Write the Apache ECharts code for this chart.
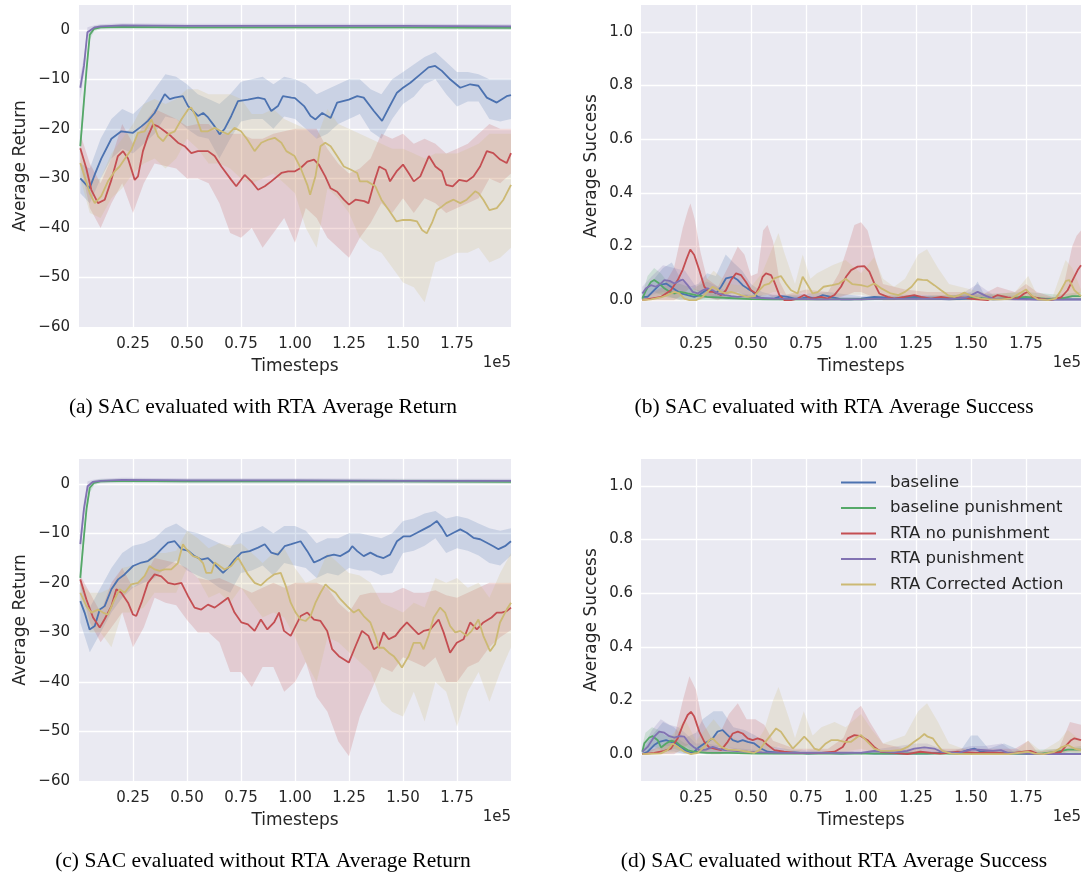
<!DOCTYPE html>
<html>
<head>
<meta charset="utf-8">
<script src="https://cdn.jsdelivr.net/npm/echarts@6/dist/echarts.min.js"></script>
<style>
  html, body { margin: 0; padding: 0; background: #fff; }
  #main { width: 1086px; height: 876px; }
</style>
</head>
<body>
<div id="main"></div>
<script>
// series names / colours (seaborn "deep")
var NAMES = ['baseline', 'baseline punishment', 'RTA no punishment', 'RTA punishment', 'RTA Corrected Action'];
var COLORS = ['#4C72B0', '#55A868', '#C44E52', '#8172B2', '#CCB974'];

// timesteps (x 1e5) used by the return bands
var X = [0.006, 0.05, 0.1, 0.15, 0.2, 0.25, 0.3, 0.35, 0.4, 0.45, 0.5, 0.55, 0.6, 0.65, 0.7, 0.75, 0.8, 0.85, 0.9, 0.95,
  1.0, 1.05, 1.1, 1.15, 1.2, 1.25, 1.3, 1.35, 1.4, 1.45, 1.5, 1.55, 1.6, 1.65, 1.7, 1.75, 1.8, 1.85, 1.9, 1.95, 2.0];

// ---- (a) return, evaluated with RTA: mean curves [x, y], bands lo/hi on X ----
var aBlue = [[0.006,-30],[0.049,-32],[0.075,-29],[0.103,-26],[0.15,-22],[0.196,-20.5],[0.25,-20.8],[0.289,-19.5],[0.319,-18.4],[0.35,-16.8],
  [0.397,-13],[0.42,-14],[0.443,-13.7],[0.481,-13.4],[0.505,-15.4],[0.551,-17.4],[0.575,-16.8],[0.597,-17.7],[0.628,-19.5],[0.651,-21.1],
  [0.674,-20],[0.705,-17.4],[0.736,-14.4],[0.782,-14.1],[0.829,-13.7],[0.86,-14],[0.89,-16.4],[0.921,-15.4],[0.944,-13.4],[0.983,-13.7],
  [1.0,-13.8],[1.042,-15.4],[1.072,-17.4],[1.095,-18.1],[1.126,-16.8],[1.165,-17.8],[1.195,-14.7],[1.249,-14.1],[1.288,-13.4],[1.318,-13.7],
  [1.365,-16.4],[1.403,-18.4],[1.434,-15.8],[1.472,-12.7],[1.5,-11.7],[1.534,-10.7],[1.58,-9],[1.618,-7.6],[1.649,-7.3],[1.68,-8.3],
  [1.718,-10],[1.765,-11.7],[1.811,-11],[1.849,-11.3],[1.888,-13.7],[1.934,-14.7],[1.98,-13.4],[2.0,-13.2]];
var aBlueHi = [-27, -28, -22, -18, -16, -17, -15, -12, -9, -9.5, -11, -13, -14, -15, -13, -10.5, -10, -9.5, -11, -9.5,
  -10, -11, -13, -12, -11, -10, -10, -12, -13, -10, -8.5, -7, -5.5, -4.5, -6.5, -8.5, -8.5, -9, -10, -10, -10];
var aBlueLo = [-33, -35, -30, -26, -24, -25, -23, -21, -17.5, -18, -20, -21.5, -22, -26, -22, -18.5, -18, -18, -20, -17.5,
  -18, -20, -22, -21, -19, -18, -17, -20.5, -22, -18, -15, -13.5, -11, -10, -13, -15.5, -14.5, -14.5, -18, -18.5, -18];
var aRed = [[0.006,-23.9],[0.034,-28],[0.057,-32.3],[0.088,-35],[0.119,-34.3],[0.15,-30.3],[0.18,-25.5],[0.204,-24.5],[0.227,-26],[0.258,-30.3],
  [0.273,-29.6],[0.296,-24.5],[0.319,-21.5],[0.343,-19.1],[0.366,-19.5],[0.397,-20.5],[0.427,-21.5],[0.458,-22.8],[0.489,-23.5],[0.52,-24.9],
  [0.55,-24.5],[0.597,-24.5],[0.628,-25.5],[0.659,-27.6],[0.705,-30.3],[0.728,-31.6],[0.767,-29.3],[0.798,-30.6],[0.829,-32.3],[0.86,-31.6],
  [0.89,-30.6],[0.937,-28.9],[0.968,-28.6],[0.998,-28.6],[1.026,-27.9],[1.057,-26.6],[1.088,-26.2],[1.11,-27.2],[1.14,-29.6],[1.165,-32],
  [1.195,-32.7],[1.226,-34.3],[1.25,-35.3],[1.28,-34.3],[1.32,-34.6],[1.34,-35],[1.37,-30.3],[1.39,-27.6],[1.42,-28.3],[1.44,-30.6],
  [1.47,-28.6],[1.5,-27.2],[1.526,-28.9],[1.55,-30.6],[1.58,-29.6],[1.62,-25.5],[1.65,-27.6],[1.68,-28.6],[1.7,-31.3],[1.73,-31.6],
  [1.76,-30.3],[1.795,-30.6],[1.826,-29.6],[1.857,-27.6],[1.888,-24.5],[1.918,-24.9],[1.95,-26.2],[1.98,-26.9],[2.0,-24.9]];
var aRedHi = [-21, -27, -31, -26, -19, -23, -19, -16, -17, -18, -19.5, -19, -19, -21, -21, -21, -22, -22, -21, -20.5,
  -20, -20, -20, -24, -27, -29, -28, -26, -21, -22, -21, -23, -22, -23, -25, -24, -23, -21, -19, -20, -20];
var aRedLo = [-27, -36, -40, -35, -31, -37, -31, -27, -27.5, -28, -30, -30, -31, -35, -41, -42, -40, -44, -41, -38,
  -43, -36, -38, -42, -44, -46, -42, -39, -35, -37, -34, -37, -34, -35, -37, -36, -35, -34, -30, -31, -29];
var aGold = [[0.006,-26.9],[0.026,-29.6],[0.05,-33],[0.073,-35],[0.103,-33.6],[0.134,-30.6],[0.165,-28.6],[0.188,-27.6],[0.21,-26.2],[0.242,-24.2],
  [0.273,-20.8],[0.304,-20.5],[0.335,-18.1],[0.366,-21.5],[0.389,-22.5],[0.412,-21.1],[0.443,-20.5],[0.474,-18.1],[0.505,-16.1],[0.52,-15.7],
  [0.543,-17.7],[0.566,-20.5],[0.597,-20.5],[0.628,-19.8],[0.659,-20.5],[0.69,-21.1],[0.72,-19.8],[0.75,-20.5],[0.78,-22.2],[0.813,-24.5],
  [0.844,-22.8],[0.875,-22.2],[0.906,-21.8],[0.937,-22.8],[0.96,-24.5],[0.998,-25.5],[1.026,-27.9],[1.057,-31.3],[1.07,-33.3],[1.095,-29.5],
  [1.118,-23.5],[1.14,-22.8],[1.165,-23.5],[1.195,-25.5],[1.226,-27.6],[1.257,-28.2],[1.288,-28.9],[1.3,-30.6],[1.334,-30.6],[1.372,-31.6],
  [1.4,-34.3],[1.434,-36.4],[1.47,-38.7],[1.5,-38.4],[1.534,-38.4],[1.565,-38.7],[1.588,-40.4],[1.61,-41.1],[1.634,-39],[1.657,-36.4],
  [1.68,-35.7],[1.7,-35],[1.734,-34.3],[1.765,-35],[1.795,-34.3],[1.834,-32.6],[1.85,-33],[1.872,-34.3],[1.9,-36.4],[1.934,-36],
  [1.965,-34.3],[2.0,-31.3]];
var aGoldHi = [-24, -30, -30, -25, -22, -19, -15, -14, -15, -14, -12, -12, -13, -13, -13, -14, -17, -17, -16, -18,
  -19, -20, -22, -16, -19, -20, -21, -22, -23, -24, -24, -25, -26, -25, -25, -25, -24, -23, -21, -21, -21];
var aGoldLo = [-30, -37, -38, -34, -32, -29, -27, -26, -28, -26, -22, -24, -27, -27, -28, -30, -31, -30, -29, -31,
  -33, -40, -44, -32, -34, -37, -42, -44, -45, -48, -51, -52, -55, -47, -46, -45, -45, -44, -47, -46, -44];
var aGreenX = [0.006, 0.02, 0.035, 0.05, 0.07, 0.1, 0.2, 0.5, 1.0, 1.5, 2.0];
var aGreen = [-23.5, -16, -8, -1, 0.2, 0.5, 0.6, 0.5, 0.5, 0.5, 0.4];
var aGreenHi = [-21.5, -14, -6.5, 0, 0.7, 0.9, 1.0, 0.9, 0.9, 0.9, 0.8];
var aGreenLo = [-25.5, -18, -9.5, -2, -0.3, 0.1, 0.2, 0.1, 0.1, 0.1, 0.0];
var aPurpleX = [0.006, 0.023, 0.039, 0.073, 0.1, 0.2, 0.5, 1.0, 1.5, 2.0];
var aPurple = [-11.7, -7.3, -0.5, 0.5, 0.7, 0.9, 0.8, 0.8, 0.8, 0.7];
var aPurpleHi = [-9.5, -5.5, 0.5, 0.9, 1.1, 1.3, 1.2, 1.2, 1.2, 1.1];
var aPurpleLo = [-14, -9, -1.5, 0.1, 0.3, 0.5, 0.4, 0.4, 0.4, 0.3];

// ---- (c) return, evaluated without RTA ----
var cBlue = [[0.006,-23.7],[0.026,-26],[0.049,-29.4],[0.073,-28.7],[0.096,-25.4],[0.119,-24.7],[0.15,-21.3],[0.181,-19.3],[0.211,-18.3],[0.25,-16.6],
  [0.289,-15.9],[0.319,-15.6],[0.35,-14.6],[0.381,-13.2],[0.412,-11.9],[0.443,-11.6],[0.474,-13.2],[0.505,-13.5],[0.535,-14.6],[0.566,-15.3],
  [0.597,-15],[0.636,-16.6],[0.667,-18],[0.69,-17],[0.72,-15.3],[0.752,-13.9],[0.79,-13.6],[0.829,-12.9],[0.86,-12.2],[0.89,-13.9],
  [0.921,-14.3],[0.952,-12.6],[0.983,-12.2],[1.026,-11.6],[1.057,-13.6],[1.088,-15.9],[1.118,-15.3],[1.149,-14.6],[1.18,-14.3],[1.21,-14.6],
  [1.249,-13.6],[1.265,-12.6],[1.288,-13.6],[1.318,-14.6],[1.349,-13.9],[1.38,-14.6],[1.41,-15],[1.44,-14.3],[1.472,-11.6],[1.503,-10.6],
  [1.534,-10.6],[1.565,-9.9],[1.595,-9.2],[1.626,-8.5],[1.657,-7.5],[1.68,-8.9],[1.703,-10.6],[1.734,-9.9],[1.765,-9.2],[1.795,-9.9],
  [1.826,-10.9],[1.857,-11.2],[1.888,-11.9],[1.918,-12.6],[1.942,-13.2],[1.972,-12.6],[2.0,-11.6]];
var cBlueHi = [-20, -25, -21, -17, -14, -12.5, -12, -11, -9, -8, -9.5, -10, -11, -12, -13, -10, -9.5, -8.5, -10, -8.5,
  -8.5, -9.5, -12, -11, -11, -10, -10, -10.5, -11, -10, -7.5, -7, -6, -5.5, -7, -6.5, -7, -8, -9, -9.5, -9];
var cBlueLo = [-28, -34, -30, -26, -23, -21, -20, -19, -17, -15.5, -17.5, -18.5, -19.5, -21, -22, -18, -17.5, -16.5, -18.5, -16,
  -16.5, -17, -19, -18, -18.5, -17, -17.5, -17.5, -18.5, -18, -14, -13.5, -12.5, -11, -14, -13, -13.5, -14.5, -16, -16.5, -14.5];
var cRed = [[0.006,-19.3],[0.034,-23.3],[0.065,-27],[0.096,-29],[0.119,-27.3],[0.15,-24.7],[0.173,-21.3],[0.196,-22],[0.227,-24],[0.25,-26.4],
  [0.265,-26.7],[0.289,-24],[0.319,-20],[0.35,-18.3],[0.381,-18.7],[0.412,-20],[0.443,-20.3],[0.474,-20],[0.505,-22.7],[0.535,-25],
  [0.566,-25.4],[0.597,-24.4],[0.628,-25],[0.659,-24],[0.69,-23],[0.72,-26],[0.752,-28],[0.782,-28.4],[0.813,-29.7],[0.842,-27.4],
  [0.872,-29.4],[0.903,-28],[0.926,-26],[0.949,-29.7],[0.98,-30.7],[1.003,-28.7],[1.026,-26.7],[1.057,-26],[1.088,-27.4],[1.118,-27.7],
  [1.149,-29.7],[1.172,-33.4],[1.203,-34.8],[1.249,-36.1],[1.28,-32.8],[1.31,-29.7],[1.34,-30.7],[1.365,-33.4],[1.388,-32.8],[1.41,-30],
  [1.434,-31.4],[1.465,-30.7],[1.488,-29.4],[1.518,-28],[1.549,-29.4],[1.572,-30.4],[1.595,-29.7],[1.626,-29.4],[1.665,-27.4],[1.688,-30],
  [1.718,-34.1],[1.749,-32.1],[1.78,-31.4],[1.811,-28],[1.842,-29.4],[1.872,-28],[1.91,-27],[1.934,-26],[1.957,-26],[1.98,-25.7],[2.0,-25]];
var cRedHi = [-18.5, -22, -26, -20, -17, -21, -19, -15, -15.5, -16, -17, -19, -19.5, -19, -20, -21, -22, -21, -20, -21,
  -20, -20, -20, -21, -24, -26, -22.5, -22, -22, -22, -21, -22, -22, -21.5, -22.5, -23, -22, -21, -20, -20, -20];
var cRedLo = [-20.5, -28, -32, -29, -26, -33, -29, -23, -24, -24.5, -27.5, -30, -30, -32, -38, -38, -41, -37, -37, -42,
  -40, -36, -43, -46, -52, -55, -47, -42, -37, -38, -35, -36, -37, -35, -40, -40, -37, -36, -33, -31, -29.5];
var cGold = [[0.006,-22],[0.034,-24.7],[0.057,-26],[0.088,-25.4],[0.111,-26],[0.134,-26.4],[0.165,-23.3],[0.188,-21.3],[0.211,-22],[0.242,-20.3],
  [0.273,-20],[0.304,-18.6],[0.327,-16.6],[0.35,-17.3],[0.373,-17.6],[0.397,-17.3],[0.427,-17.3],[0.458,-16],[0.481,-12.2],[0.497,-13.2],
  [0.528,-14.6],[0.551,-14.9],[0.574,-16],[0.589,-18],[0.613,-18],[0.628,-15.9],[0.651,-16.6],[0.674,-17.3],[0.705,-16.6],[0.736,-14.9],
  [0.759,-16.6],[0.782,-18.3],[0.813,-20],[0.842,-20.5],[0.872,-19.3],[0.903,-18.3],[0.934,-18],[0.957,-20.6],[0.98,-24],[1.003,-26],
  [1.026,-27.4],[1.049,-27.7],[1.072,-26.7],[1.095,-24],[1.118,-22],[1.141,-20.3],[1.165,-21.3],[1.188,-22],[1.21,-23.3],[1.241,-24.7],
  [1.272,-26],[1.295,-25.4],[1.318,-26.7],[1.349,-28],[1.372,-30.7],[1.388,-33.1],[1.41,-33.1],[1.434,-34.1],[1.457,-34.8],[1.48,-36.1],
  [1.495,-37.1],[1.526,-34.8],[1.549,-32.1],[1.58,-32.1],[1.595,-33.4],[1.618,-30.7],[1.642,-27],[1.672,-25],[1.695,-26],[1.718,-28.7],
  [1.742,-30],[1.765,-29.7],[1.795,-30.7],[1.818,-29.7],[1.849,-27.4],[1.872,-30.7],[1.903,-33.8],[1.926,-32.4],[1.949,-28],[1.98,-25.4],[2.0,-24]];
var cGoldHi = [-20, -22, -22, -21, -17, -16.5, -16, -14, -14, -13.5, -9.5, -11, -13, -12, -12.5, -12, -14, -16, -14, -13,
  -17, -20, -19, -14, -16, -18, -18.5, -20, -24, -25, -26, -24, -25, -19, -20, -19, -21, -20, -23, -18, -14];
var cGoldLo = [-24, -30, -30, -33, -26, -26, -25, -22, -22, -22, -17, -19, -23, -22, -24, -21, -24, -27, -26, -27,
  -31, -36, -40, -31, -32, -34, -36, -38, -44, -46, -47, -42, -48, -40, -42, -49, -42, -38, -44, -38, -33];
var cGreenX = [0.006, 0.02, 0.035, 0.05, 0.07, 0.1, 0.2, 0.5, 1.0, 1.5, 2.0];
var cGreen = [-19, -12, -5, -0.8, 0.2, 0.5, 0.6, 0.5, 0.5, 0.5, 0.4];
var cGreenHi = [-17, -10, -3.5, 0.2, 0.7, 0.9, 1.0, 0.9, 0.9, 0.9, 0.8];
var cGreenLo = [-21, -14, -6.5, -1.8, -0.3, 0.1, 0.2, 0.1, 0.1, 0.1, 0.0];
var cPurpleX = [0.006, 0.023, 0.04, 0.065, 0.1, 0.2, 0.5, 1.0, 1.5, 2.0];
var cPurple = [-12.2, -5, -0.5, 0.4, 0.6, 0.8, 0.7, 0.7, 0.6, 0.6];
var cPurpleHi = [-10, -3.5, 0.5, 0.8, 1.0, 1.2, 1.1, 1.1, 1.0, 1.0];
var cPurpleLo = [-14.5, -6.5, -1.5, 0.0, 0.2, 0.4, 0.3, 0.3, 0.2, 0.2];

// ---- (b) success, evaluated with RTA: [x, mean] and bands [x, lo, hi] ----
var bBlue = [[0.006,0.012],[0.03,0.012],[0.06,0.037],[0.083,0.056],[0.114,0.062],[0.136,0.05],[0.159,0.037],[0.182,0.025],[0.212,0.019],[0.242,0.012],
  [0.265,0.019],[0.295,0.037],[0.318,0.037],[0.341,0.025],[0.364,0.05],[0.386,0.081],[0.417,0.087],[0.44,0.075],[0.462,0.056],[0.485,0.043],
  [0.508,0.031],[0.53,0.012],[0.56,0.006],[0.606,0.006],[0.636,0.015],[0.667,0.012],[0.697,0.006],[0.727,0.006],[0.758,0.012],[0.79,0.006],
  [0.826,0.019],[0.864,0.012],[0.91,0.003],[0.955,0.003],[1.0,0.006],[1.06,0.012],[1.1,0.01],[1.15,0.006],[1.2,0.01],[1.25,0.012],
  [1.3,0.006],[1.4,0.003],[1.5,0.006],[1.52,0.01],[1.55,0.006],[1.6,0.003],[1.7,0.006],[1.8,0.003],[1.9,0.003],[2.0,0.003]];
var bBlueBand = [[0.006,0,0.03],[0.05,0.01,0.07],[0.1,0.02,0.12],[0.14,0.01,0.14],[0.18,0,0.08],[0.22,0,0.05],[0.26,0,0.06],[0.3,0.01,0.1],
  [0.34,0.005,0.09],[0.385,0.02,0.17],[0.42,0.03,0.14],[0.46,0.02,0.11],[0.5,0.01,0.06],[0.55,0,0.03],[0.6,0,0.02],[0.7,0,0.02],[0.85,0,0.03],
  [1.0,0,0.015],[1.2,0,0.02],[1.4,0,0.015],[1.5,0,0.03],[1.53,0,0.07],[1.56,0,0.02],[1.7,0,0.01],[2.0,0,0.008]];
var bGreen = [[0.006,0.006],[0.023,0.037],[0.045,0.068],[0.06,0.075],[0.083,0.062],[0.106,0.044],[0.13,0.031],[0.152,0.025],[0.18,0.031],
  [0.212,0.025],[0.25,0.019],[0.3,0.012],[0.4,0.008],[0.5,0.004],[0.6,0.003],[0.8,0.003],[1.0,0.003],[1.2,0.006],[1.3,0.006],[1.4,0.006],
  [1.5,0.01],[1.6,0.004],[1.75,0.012],[1.85,0.004],[1.92,0.008],[1.96,0.015],[2.0,0.015]];
var bGreenBand = [[0.006,0,0.02],[0.03,0.01,0.09],[0.06,0.03,0.12],[0.09,0.02,0.1],[0.12,0.01,0.07],[0.18,0.005,0.06],[0.25,0,0.04],
  [0.35,0,0.02],[0.5,0,0.01],[1.0,0,0.01],[1.5,0,0.02],[1.75,0,0.03],[1.9,0,0.02],[2.0,0,0.03]];
var bRed = [[0.006,0],[0.045,0.006],[0.09,0.012],[0.136,0.037],[0.167,0.075],[0.189,0.112],[0.205,0.149],[0.224,0.189],[0.242,0.168],
  [0.265,0.112],[0.288,0.05],[0.311,0.031],[0.333,0.031],[0.364,0.019],[0.386,0.037],[0.409,0.075],[0.432,0.1],[0.455,0.093],[0.477,0.068],
  [0.5,0.037],[0.523,0.025],[0.538,0.05],[0.553,0.087],[0.568,0.1],[0.591,0.093],[0.606,0.068],[0.629,0.019],[0.652,0],[0.682,0],
  [0.712,0.006],[0.742,0.019],[0.773,0.006],[0.818,0.012],[0.848,0.006],[0.879,0.019],[0.909,0.05],[0.932,0.087],[0.955,0.112],[0.985,0.125],
  [1.015,0.127],[1.038,0.106],[1.061,0.062],[1.083,0.025],[1.121,0.012],[1.152,0.006],[1.197,0.012],[1.242,0.019],[1.273,0.012],[1.318,0.006],
  [1.364,0.012],[1.409,0.006],[1.455,0.01],[1.515,0.004],[1.576,0],[1.621,0.019],[1.667,0.01],[1.712,0.006],[1.742,0.025],[1.758,0.031],
  [1.78,0.012],[1.818,0.005],[1.864,0],[1.909,0.01],[1.939,0.037],[1.962,0.075],[1.985,0.112],[2.0,0.13]];
var bRedBand = [[0.006,0,0.01],[0.1,0,0.05],[0.15,0,0.12],[0.19,0.02,0.27],[0.215,0.04,0.34],[0.225,0.05,0.36],[0.245,0.04,0.3],[0.27,0.03,0.18],
  [0.3,0.01,0.08],[0.35,0,0.05],[0.4,0.02,0.13],[0.44,0.03,0.2],[0.47,0.02,0.17],[0.5,0.005,0.09],[0.53,0.01,0.1],[0.555,0.02,0.26],
  [0.575,0.02,0.28],[0.6,0.01,0.22],[0.63,0,0.07],[0.66,0,0.02],[0.75,0,0.04],[0.85,0,0.03],[0.9,0.01,0.1],[0.94,0.02,0.2],[0.97,0.03,0.28],
  [1.0,0.03,0.29],[1.03,0.02,0.26],[1.07,0.01,0.14],[1.1,0,0.06],[1.2,0,0.04],[1.3,0,0.03],[1.45,0,0.03],[1.55,0,0.02],[1.62,0,0.05],
  [1.7,0,0.03],[1.75,0,0.06],[1.8,0,0.03],[1.88,0,0.01],[1.92,0,0.05],[1.96,0.01,0.2],[1.98,0.02,0.24],[2.0,0.03,0.26]];
var bPurple = [[0.006,0.025],[0.023,0.044],[0.045,0.056],[0.068,0.05],[0.09,0.062],[0.106,0.075],[0.13,0.072],[0.152,0.062],[0.174,0.072],
  [0.19,0.077],[0.212,0.056],[0.235,0.031],[0.258,0.025],[0.28,0.037],[0.303,0.044],[0.326,0.037],[0.348,0.025],[0.38,0.019],[0.41,0.015],
  [0.44,0.012],[0.47,0.015],[0.5,0.01],[0.55,0.008],[0.6,0.006],[0.7,0.005],[0.8,0.003],[0.9,0.003],[1.0,0.003],[1.1,0.006],[1.2,0.005],
  [1.3,0.006],[1.4,0.004],[1.48,0.01],[1.53,0.031],[1.57,0.015],[1.6,0.006],[1.7,0.003],[1.8,0.002],[1.9,0.002],[2.0,0.002]];
var bPurpleBand = [[0.006,0,0.05],[0.05,0.02,0.09],[0.1,0.03,0.13],[0.15,0.02,0.12],[0.2,0.03,0.11],[0.25,0.01,0.05],[0.3,0.01,0.07],
  [0.4,0,0.03],[0.5,0,0.02],[1.0,0,0.01],[1.45,0,0.02],[1.53,0.01,0.06],[1.6,0,0.02],[2.0,0,0.005]];
var bGold = [[0.006,0],[0.045,0.003],[0.09,0.01],[0.121,0.019],[0.152,0.031],[0.174,0.025],[0.197,0.006],[0.22,0],[0.25,0],[0.28,0.012],
  [0.31,0.037],[0.326,0.05],[0.341,0.043],[0.364,0.031],[0.386,0.025],[0.409,0.031],[0.432,0.025],[0.455,0.019],[0.485,0.012],[0.515,0.015],
  [0.538,0.037],[0.56,0.056],[0.583,0.062],[0.606,0.081],[0.636,0.09],[0.66,0.06],[0.682,0.037],[0.712,0.025],[0.735,0.087],[0.755,0.06],
  [0.78,0.025],[0.803,0.03],[0.83,0.05],[0.87,0.056],[0.9,0.062],[0.93,0.08],[0.96,0.06],[1.0,0.056],[1.03,0.05],[1.06,0.062],
  [1.09,0.045],[1.135,0.025],[1.17,0.019],[1.2,0.031],[1.23,0.05],[1.257,0.078],[1.28,0.076],[1.3,0.075],[1.333,0.056],[1.364,0.037],
  [1.394,0.019],[1.424,0.012],[1.447,0.019],[1.47,0.028],[1.492,0.019],[1.515,0.012],[1.545,0.006],[1.59,0.003],[1.636,0.003],[1.682,0.006],
  [1.72,0.025],[1.75,0.04],[1.773,0.019],[1.803,0.003],[1.85,0],[1.886,0.006],[1.909,0.037],[1.932,0.072],[1.947,0.075],[1.97,0.037],[2.0,0.015]];
var bGoldBand = [[0.006,0,0.01],[0.1,0,0.04],[0.2,0,0.02],[0.3,0.01,0.08],[0.33,0.02,0.11],[0.4,0.01,0.06],[0.5,0,0.05],[0.55,0.01,0.1],
  [0.6,0.03,0.2],[0.625,0.03,0.25],[0.65,0.02,0.18],[0.7,0.01,0.06],[0.735,0.03,0.17],[0.77,0.02,0.08],[0.8,0.01,0.1],[0.87,0.01,0.13],
  [0.93,0.02,0.15],[1.0,0.02,0.1],[1.06,0.01,0.16],[1.1,0,0.08],[1.15,0,0.05],[1.2,0.01,0.08],[1.26,0.02,0.17],[1.3,0.02,0.19],[1.35,0.01,0.12],
  [1.4,0,0.06],[1.45,0,0.05],[1.5,0,0.04],[1.6,0,0.02],[1.7,0,0.03],[1.76,0.01,0.09],[1.8,0,0.02],[1.87,0,0.01],[1.9,0,0.08],[1.93,0.02,0.15],
  [1.96,0.01,0.12],[2.0,0,0.04]];

// ---- (d) success, evaluated without RTA ----
var dBlue = [[0.006,0],[0.03,0.009],[0.06,0.034],[0.083,0.046],[0.114,0.052],[0.136,0.046],[0.159,0.04],[0.182,0.027],[0.205,0.012],[0.227,0.005],
  [0.242,0.009],[0.265,0.027],[0.288,0.04],[0.303,0.046],[0.326,0.059],[0.348,0.084],[0.371,0.09],[0.394,0.071],[0.417,0.052],[0.44,0.046],
  [0.462,0.052],[0.485,0.046],[0.515,0.04],[0.545,0.021],[0.576,0.009],[0.64,0.005],[0.7,0.007],[0.76,0.002],[0.83,0.005],[0.91,0.002],
  [1.0,0.005],[1.06,0.002],[1.2,0.002],[1.3,0.002],[1.36,0.005],[1.44,0.002],[1.485,0.015],[1.515,0.021],[1.545,0.009],[1.6,0.005],
  [1.7,0.002],[1.8,0],[2.0,0]];
var dBlueBand = [[0.006,0,0.01],[0.05,0.005,0.07],[0.1,0.01,0.12],[0.15,0.01,0.1],[0.2,0,0.06],[0.25,0,0.08],[0.28,0.01,0.13],[0.33,0.02,0.16],
  [0.37,0.03,0.16],[0.42,0.02,0.1],[0.47,0.015,0.09],[0.52,0.01,0.07],[0.58,0,0.03],[0.7,0,0.015],[1.0,0,0.01],[1.45,0,0.01],[1.5,0,0.07],
  [1.53,0,0.07],[1.58,0,0.02],[1.65,0,0.04],[1.75,0,0.005],[2.0,0,0.005]];
var dGreen = [[0.006,0.009],[0.015,0.04],[0.038,0.062],[0.053,0.067],[0.076,0.052],[0.091,0.025],[0.114,0.04],[0.136,0.05],[0.159,0.046],
  [0.182,0.03],[0.212,0.015],[0.242,0.009],[0.3,0.005],[0.4,0.005],[0.53,0.002],[0.7,0.002],[0.9,0.002],[1.1,0.002],[1.3,0.002],[1.5,0.002],
  [1.7,0.002],[1.82,0.002],[1.89,0.009],[1.94,0.017],[2.0,0.017]];
var dGreenBand = [[0.006,0,0.03],[0.02,0.01,0.08],[0.05,0.03,0.1],[0.08,0.02,0.09],[0.11,0.01,0.07],[0.15,0.02,0.07],[0.2,0.005,0.04],
  [0.3,0,0.02],[0.5,0,0.01],[1.0,0,0.005],[1.5,0,0.005],[1.9,0,0.02],[2.0,0.005,0.03]];
var dRed = [[0.006,0],[0.06,0.005],[0.106,0.012],[0.136,0.021],[0.167,0.059],[0.19,0.108],[0.212,0.146],[0.227,0.158],[0.242,0.14],[0.265,0.084],
  [0.288,0.046],[0.31,0.025],[0.333,0.021],[0.364,0.015],[0.394,0.046],[0.417,0.077],[0.44,0.084],[0.462,0.077],[0.485,0.059],[0.508,0.052],
  [0.53,0.059],[0.553,0.052],[0.576,0.034],[0.606,0.015],[0.65,0.009],[0.7,0.005],[0.76,0.005],[0.82,0.005],[0.88,0.009],[0.917,0.027],
  [0.94,0.059],[0.97,0.071],[1.0,0.067],[1.03,0.052],[1.06,0.027],[1.09,0.009],[1.15,0.005],[1.21,0],[1.27,0.009],[1.32,0.005],
  [1.36,0.002],[1.44,0.009],[1.52,0.005],[1.6,0.007],[1.67,0.002],[1.74,0.009],[1.77,0.012],[1.8,0.002],[1.86,0],[1.91,0.009],
  [1.93,0.03],[1.955,0.052],[1.97,0.059],[2.0,0.052]];
var dRedBand = [[0.006,0,0.005],[0.1,0,0.03],[0.15,0,0.06],[0.19,0.02,0.2],[0.22,0.04,0.29],[0.25,0.03,0.24],[0.28,0.01,0.12],[0.32,0,0.06],
  [0.36,0,0.08],[0.4,0.01,0.15],[0.44,0.02,0.19],[0.48,0.01,0.13],[0.52,0.01,0.13],[0.56,0.01,0.11],[0.6,0,0.05],[0.7,0,0.02],[0.85,0,0.02],
  [0.92,0,0.06],[0.97,0.01,0.16],[1.0,0.01,0.18],[1.04,0.01,0.12],[1.1,0,0.04],[1.2,0,0.02],[1.3,0,0.02],[1.5,0,0.02],[1.7,0,0.02],
  [1.76,0,0.05],[1.8,0,0.01],[1.9,0,0.02],[1.95,0.01,0.12],[2.0,0.01,0.11]];
var dPurple = [[0.006,0.009],[0.03,0.027],[0.06,0.065],[0.083,0.084],[0.106,0.08],[0.129,0.067],[0.152,0.062],[0.174,0.067],[0.197,0.065],
  [0.22,0.04],[0.242,0.025],[0.265,0.015],[0.295,0.017],[0.326,0.027],[0.35,0.021],[0.38,0.015],[0.42,0.012],[0.485,0.009],[0.55,0.007],
  [0.65,0.005],[0.76,0.005],[0.9,0.005],[1.0,0.005],[1.06,0.012],[1.15,0.007],[1.21,0.012],[1.242,0.021],[1.288,0.025],[1.333,0.021],
  [1.364,0.009],[1.44,0.005],[1.5,0.017],[1.53,0.017],[1.56,0.015],[1.6,0.012],[1.636,0.015],[1.667,0.005],[1.8,0],[2.0,0]];
var dPurpleBand = [[0.006,0,0.02],[0.05,0.01,0.09],[0.09,0.03,0.13],[0.13,0.03,0.11],[0.17,0.04,0.1],[0.2,0.03,0.08],[0.25,0.005,0.04],
  [0.3,0,0.04],[0.4,0,0.025],[0.6,0,0.01],[1.0,0,0.01],[1.25,0.005,0.04],[1.3,0.01,0.04],[1.4,0,0.01],[1.5,0.005,0.03],[1.56,0.005,0.03],
  [1.64,0,0.04],[1.7,0,0.005],[2.0,0,0.002]];
var dGold = [[0.006,0],[0.09,0.003],[0.12,0.015],[0.144,0.04],[0.167,0.027],[0.197,0.009],[0.227,0],[0.258,0.005],[0.288,0.027],[0.31,0.052],
  [0.326,0.059],[0.341,0.046],[0.364,0.027],[0.394,0.017],[0.44,0.015],[0.485,0.009],[0.515,0.005],[0.538,0.015],[0.56,0.04],[0.59,0.071],
  [0.614,0.096],[0.636,0.084],[0.667,0.046],[0.69,0.021],[0.72,0.046],[0.742,0.065],[0.765,0.046],[0.788,0.021],[0.81,0.015],[0.84,0.04],
  [0.864,0.052],[0.894,0.052],[0.924,0.046],[0.955,0.046],[0.985,0.065],[1.0,0.071],[1.03,0.046],[1.06,0.021],[1.09,0.012],[1.136,0.012],
  [1.18,0.015],[1.212,0.027],[1.242,0.046],[1.265,0.059],[1.288,0.075],[1.303,0.065],[1.326,0.059],[1.348,0.034],[1.37,0.012],[1.41,0.002],
  [1.45,0],[1.52,0],[1.6,0],[1.67,0],[1.76,0.009],[1.79,0.002],[1.83,0],[1.88,0.009],[1.91,0.025],[1.94,0.034],[1.97,0.021],[2.0,0.015]];
var dGoldBand = [[0.006,0,0.005],[0.1,0,0.03],[0.15,0.005,0.08],[0.2,0.01,0.13],[0.25,0,0.05],[0.3,0.01,0.1],[0.33,0.02,0.13],[0.38,0.01,0.08],
  [0.45,0,0.05],[0.52,0,0.04],[0.56,0.01,0.09],[0.6,0.02,0.2],[0.625,0.03,0.25],[0.67,0.01,0.14],[0.7,0,0.06],[0.74,0.02,0.16],[0.78,0.01,0.07],
  [0.82,0.01,0.1],[0.88,0.01,0.12],[0.93,0.01,0.1],[1.0,0.02,0.15],[1.05,0.01,0.09],[1.1,0,0.04],[1.2,0,0.07],[1.26,0.01,0.16],[1.3,0.02,0.19],
  [1.35,0.01,0.12],[1.4,0,0.04],[1.5,0,0.01],[1.7,0,0.01],[1.76,0,0.05],[1.82,0,0.01],[1.9,0,0.05],[1.94,0.01,0.09],[2.0,0,0.05]];

var CAPTIONS = [
  '(a) SAC evaluated with RTA Average Return',
  '(b) SAC evaluated with RTA Average Success',
  '(c) SAC evaluated without RTA Average Return',
  '(d) SAC evaluated without RTA Average Success'
];

var TXT = '#262626';
var FONT = 'DejaVu Sans';

function zip(xs, ys) { return xs.map(function (x, i) { return [x, ys[i]]; }); }
function zip3(xs, lo, hi) { return xs.map(function (x, i) { return [x, lo[i], hi[i]]; }); }

// per panel: lines and bands in NAMES order
var panels = [
  { lines: [aBlue, zip(aGreenX, aGreen), aRed, zip(aPurpleX, aPurple), aGold],
    bands: [zip3(X, aBlueLo, aBlueHi), zip3(aGreenX, aGreenLo, aGreenHi), zip3(X, aRedLo, aRedHi), zip3(aPurpleX, aPurpleLo, aPurpleHi), zip3(X, aGoldLo, aGoldHi)] },
  { lines: [bBlue, bGreen, bRed, bPurple, bGold],
    bands: [bBlueBand, bGreenBand, bRedBand, bPurpleBand, bGoldBand] },
  { lines: [cBlue, zip(cGreenX, cGreen), cRed, zip(cPurpleX, cPurple), cGold],
    bands: [zip3(X, cBlueLo, cBlueHi), zip3(cGreenX, cGreenLo, cGreenHi), zip3(X, cRedLo, cRedHi), zip3(cPurpleX, cPurpleLo, cPurpleHi), zip3(X, cGoldLo, cGoldHi)] },
  { lines: [dBlue, dGreen, dRed, dPurple, dGold],
    bands: [dBlueBand, dGreenBand, dRedBand, dPurpleBand, dGoldBand] }
];

var grids = [
  { left: 79, top: 5, width: 432, height: 322 },
  { left: 641, top: 5, width: 440, height: 322 },
  { left: 79, top: 459, width: 432, height: 322 },
  { left: 641, top: 459, width: 440, height: 322 }
];

function bandSeries(rows, color, gi, name) {
  return {
    type: 'custom', name: name, xAxisIndex: gi, yAxisIndex: gi, silent: true, z: 2,
    data: rows, encode: { x: 0, y: [1, 2] },
    renderItem: function (params, api) {
      if (params.dataIndex !== 0) return;
      var pts = [];
      for (var i = 0; i < rows.length; i++) pts.push(api.coord([rows[i][0], rows[i][2]]));
      for (var j = rows.length - 1; j >= 0; j--) pts.push(api.coord([rows[j][0], rows[j][1]]));
      return { type: 'polygon', shape: { points: pts }, style: { fill: color, opacity: 0.2 } };
    }
  };
}

function lineSeries(data, k, gi) {
  return {
    type: 'line', name: NAMES[k], xAxisIndex: gi, yAxisIndex: gi, data: data,
    symbol: 'none', silent: true, z: 3,
    lineStyle: { color: COLORS[k], width: 1.8 },
    itemStyle: { color: COLORS[k] }
  };
}

var series = [];
panels.forEach(function (p, gi) {
  p.bands.forEach(function (rows, k) { series.push(bandSeries(rows, COLORS[k], gi, NAMES[k] + ' band')); });
  p.lines.forEach(function (data, k) { series.push(lineSeries(data, k, gi)); });
});

var xAxes = grids.map(function (g, i) {
  return {
    type: 'value', gridIndex: i, min: 0, max: 2, interval: 0.25,
    name: 'Timesteps', nameLocation: 'middle', nameGap: 31,
    nameTextStyle: { fontFamily: FONT, fontSize: 17, color: TXT },
    axisLine: { show: false }, axisTick: { show: false },
    axisLabel: { showMinLabel: false, showMaxLabel: false, margin: 10, fontFamily: FONT, fontSize: 15, color: TXT,
      formatter: function (v) { return v.toFixed(2); } },
    splitLine: { show: true, showMinLine: false, showMaxLine: false, lineStyle: { color: '#ffffff', width: 1.3 } }
  };
});

var yAxes = grids.map(function (g, i) {
  var ret = (i % 2 === 0);
  var ax = {
    type: 'value', gridIndex: i,
    name: ret ? 'Average Return' : 'Average Success', nameLocation: 'middle', nameGap: ret ? 50 : 41,
    nameTextStyle: { fontFamily: FONT, fontSize: 17, color: TXT },
    axisLine: { show: false }, axisTick: { show: false },
    splitLine: { show: true, showMinLine: false, showMaxLine: false, lineStyle: { color: '#ffffff', width: 1.3 } }
  };
  if (ret) {
    ax.min = -60; ax.max = 5; ax.interval = 10;
    ax.axisLabel = { showMaxLabel: false, margin: 9, fontFamily: FONT, fontSize: 15, color: TXT,
      formatter: function (v) { return v < 0 ? '\u2212' + Math.abs(v) : String(v); } };
  } else {
    ax.min = -0.1; ax.max = 1.1; ax.splitNumber = 6;
    ax.axisLabel = { showMinLabel: false, showMaxLabel: false, margin: 8, fontFamily: FONT, fontSize: 15, color: TXT,
      formatter: function (v) { return v.toFixed(1); } };
  }
  return ax;
});

var graphics = [];
grids.forEach(function (g, i) {
  graphics.push({ type: 'text', x: g.left + g.width, y: g.top + g.height + 36, silent: true,
    style: { text: '1e5', font: '15px "DejaVu Sans"', fill: TXT, align: 'right', verticalAlign: 'middle' } });
  graphics.push({ type: 'text', x: i % 2 === 0 ? 263 : 834, y: g.top + g.height + 80, silent: true,
    style: { text: CAPTIONS[i], font: '21.5px "Liberation Serif"', fill: '#000', align: 'center', verticalAlign: 'middle' } });
});

var chart = echarts.init(document.getElementById('main'), null, { renderer: 'canvas' });
chart.setOption({
  backgroundColor: '#ffffff',
  animation: false,
  grid: grids.map(function (g) {
    return { left: g.left, top: g.top, width: g.width, height: g.height, show: true,
      backgroundColor: '#EAEAF2', borderWidth: 0 };
  }),
  xAxis: xAxes,
  yAxis: yAxes,
  legend: {
    data: NAMES, orient: 'vertical', left: 836, top: 469,
    icon: 'path://M0,0H35V2H0Z',
    itemWidth: 35, itemHeight: 14, itemGap: 8.5, selectedMode: false,
    textStyle: { fontFamily: FONT, fontSize: 16.5, color: TXT, padding: [0, 0, 0, 9] }
  },
  graphic: graphics,
  series: series
});
</script>
</body>
</html>
